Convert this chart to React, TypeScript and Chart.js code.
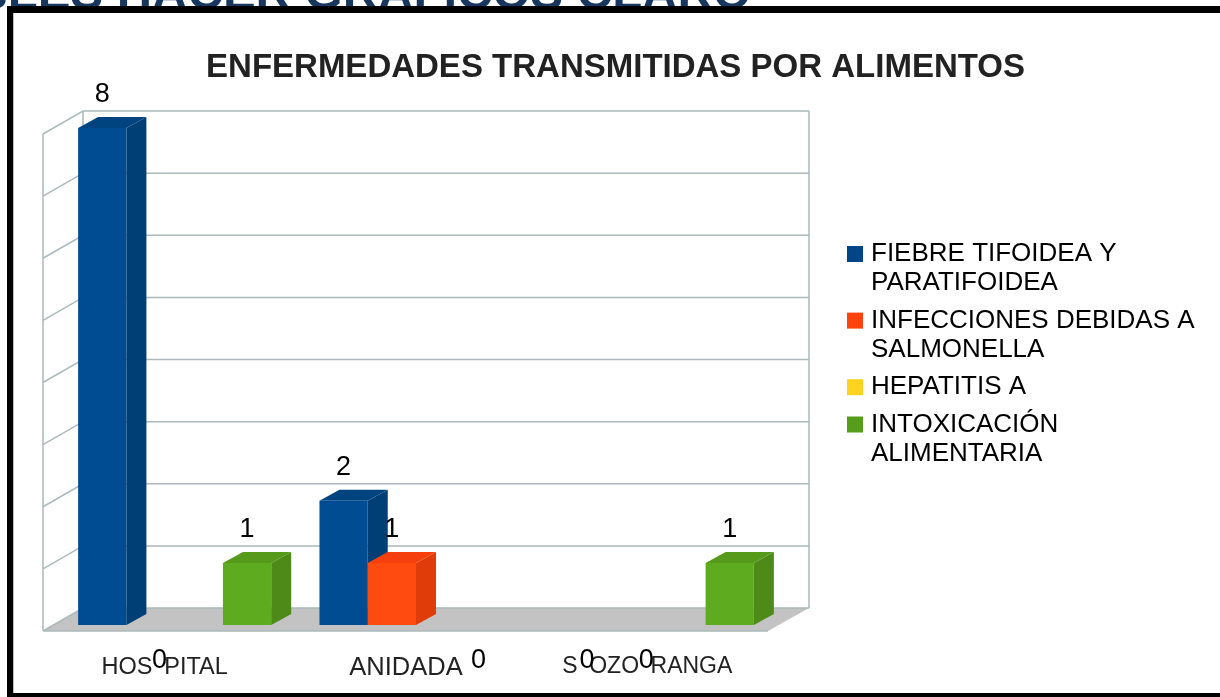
import { useEffect, useRef } from "react";
import { Chart, registerables } from "chart.js";

Chart.register(...registerables);

const categories = ["HOS\u2002PITAL", "ANIDADA", "S\u2002OZO\u2002RANGA"];
const fiebre = [8, 2, 0];
const salmonella = [0, 1, 0];
const hepatitis = [null, null, null];
const intoxicacion = [1, 0, 1];

const seriesLabels = [
  ["FIEBRE TIFOIDEA Y", "PARATIFOIDEA"],
  ["INFECCIONES DEBIDAS A", "SALMONELLA"],
  ["HEPATITIS A"],
  ["INTOXICACIÓN", "ALIMENTARIA"],
];
const seriesValues = [fiebre, salmonella, hepatitis, intoxicacion];
const faceColors = ["#004C93", "#FF4A10", "#FFD320", "#5FAB1F"];
const sideColors = ["#003F76", "#E03C0A", "#DDB510", "#4E8A18"];
const topColors = ["#00447F", "#F5400D", "#F0C518", "#559A1B"];
const legendColors = ["#004586", "#FF420E", "#FFD320", "#579D1C"];
const tickSizes = [23.5, 25.5, 23];

const chartTitle = "ENFERMEDADES TRANSMITIDAS POR ALIMENTOS";
const pageHeading = "ABLES HACER GRAFICOS CLARO";
const FONT = "'Liberation Sans', Arial, sans-serif";

// horizontal nudge of the "0" labels, which sit on the axis text (dataset:category)
const zeroShift: Record<string, number> = { "1:0": 9, "3:1": -10, "0:2": 2, "1:2": 13 };

const decor = {
  id: "decor",
  afterLayout(chart: any) {
    const t = chart.titleBlock;
    t.left = 0; t.right = 1231; t.top = 48; t.bottom = 88;
    const l = chart.legend;
    l.left = 844; l.right = 1215; l.top = 233; l.bottom = 480;
  },
  beforeDraw(chart: any) {
    const { ctx, scales: { x, y } } = chart;
    ctx.save();
    // page heading clipped by the frame
    ctx.fillStyle = "#17375E";
    ctx.font = `bold 49px ${FONT}`;
    ctx.textAlign = "right";
    ctx.textBaseline = "alphabetic";
    ctx.fillText(pageHeading, 751, 9);
    // frame
    ctx.fillStyle = "#000";
    ctx.fillRect(7, 6, 1213, 7);
    ctx.fillRect(7, 6, 6.5, 691);
    ctx.fillRect(7, 693, 1213, 4);
    ctx.fillStyle = "#fff";
    ctx.fillRect(13.5, 13, 1206.5, 680);

    const left = x.left, right = x.right;
    const zero = y.getPixelForValue(0);
    // floor
    ctx.fillStyle = "#C3C3C3";
    ctx.beginPath();
    ctx.moveTo(left - 11, zero + 6);
    ctx.lineTo(left + 29, zero - 17);
    ctx.lineTo(right + 31, zero - 17);
    ctx.lineTo(right - 10, zero + 6);
    ctx.closePath();
    ctx.fill();
    // walls
    ctx.strokeStyle = "#ADB9BB";
    ctx.lineWidth = 1.5;
    ctx.beginPath();
    y.ticks.forEach((tk: any) => {
      const py = y.getPixelForValue(tk.value);
      ctx.moveTo(left - 11, py + 6);
      ctx.lineTo(left + 29, py - 17);
      ctx.lineTo(right + 31, py - 17);
    });
    const top = y.getPixelForValue(8);
    ctx.moveTo(left - 11, top + 6);
    ctx.lineTo(left - 11, zero + 6);
    ctx.moveTo(left + 29, top - 17);
    ctx.lineTo(left + 29, zero - 17);
    ctx.moveTo(right + 31, top - 17);
    ctx.lineTo(right + 31, zero - 17);
    ctx.moveTo(left - 11, zero + 6);
    ctx.lineTo(right - 10, zero + 6);
    ctx.stroke();
    ctx.restore();
  },
  beforeDatasetsDraw(chart: any) {
    const { ctx } = chart;
    const dx = 20, dy = 11;
    ctx.save();
    chart.data.datasets.forEach((ds: any, di: number) => {
      chart.getDatasetMeta(di).data.forEach((bar: any, i: number) => {
        if (!ds.data[i]) return;
        const l = bar.x - bar.width / 2, r = bar.x + bar.width / 2;
        ctx.fillStyle = sideColors[di];
        ctx.beginPath();
        ctx.moveTo(r, bar.y);
        ctx.lineTo(r + dx, bar.y - dy);
        ctx.lineTo(r + dx, bar.base - dy);
        ctx.lineTo(r, bar.base);
        ctx.closePath();
        ctx.fill();
        ctx.fillStyle = topColors[di];
        ctx.beginPath();
        ctx.moveTo(l, bar.y);
        ctx.lineTo(l + dx, bar.y - dy);
        ctx.lineTo(r + dx, bar.y - dy);
        ctx.lineTo(r, bar.y);
        ctx.closePath();
        ctx.fill();
      });
    });
    ctx.restore();
  },
  afterDatasetsDraw(chart: any) {
    const { ctx } = chart;
    ctx.save();
    ctx.fillStyle = "#000";
    ctx.font = `27px ${FONT}`;
    ctx.textAlign = "center";
    ctx.textBaseline = "middle";
    chart.data.datasets.forEach((ds: any, di: number) => {
      chart.getDatasetMeta(di).data.forEach((bar: any, i: number) => {
        const v = ds.data[i];
        if (v === null || v === undefined) return;
        if (v === 0) ctx.fillText("0", bar.x + (zeroShift[`${di}:${i}`] ?? 0), bar.base + 36);
        else ctx.fillText(String(v), bar.x, bar.y - 33);
      });
    });
    ctx.restore();
  },
};

export default function App() {
  const ref = useRef<HTMLCanvasElement>(null);
  useEffect(() => {
    document.body.style.margin = "0";
    const chart = new Chart(ref.current as HTMLCanvasElement, {
      type: "bar",
      data: {
        labels: categories,
        datasets: seriesValues.map((values, i) => ({
          label: seriesLabels[i] as any,
          data: values as any,
          backgroundColor: faceColors[i],
          borderWidth: 0,
          barPercentage: 1,
          categoryPercentage: 0.8,
        })),
      },
      options: {
        responsive: false,
        animation: false,
        layout: { padding: { left: 54, right: 442, top: 88, bottom: 0 } },
        scales: {
          x: {
            grid: { display: false },
            border: { display: false },
            afterFit: (s: any) => { s.height = 72; },
            ticks: {
              maxRotation: 0,
              autoSkip: false,
              padding: 20,
              labelOffset: -10,
              color: "#222",
              font: (c: any) => ({ family: FONT, size: tickSizes[c.index] ?? 23 }),
            },
          },
          y: { display: false, min: 0, max: 8, ticks: { stepSize: 1 } },
        },
        plugins: {
          tooltip: { enabled: false },
          title: {
            display: true,
            text: chartTitle,
            color: "#222",
            padding: 0,
            font: { family: FONT, size: 33, weight: "bold", lineHeight: 40 / 33 },
          },
          legend: {
            position: "chartArea" as any,
            align: "start",
            labels: {
              boxWidth: 6,
              boxHeight: 6,
              padding: 8,
              color: "#000",
              font: { family: FONT, size: 26, lineHeight: 29.3 / 26 },
              generateLabels: (c: any) =>
                c.data.datasets.map((ds: any, i: number) => ({
                  text: ds.label,
                  fillStyle: legendColors[i],
                  strokeStyle: legendColors[i],
                  lineWidth: 10,
                  fontColor: "#000",
                  datasetIndex: i,
                  hidden: false,
                })),
            },
          },
        },
      },
      plugins: [decor],
    } as any);
    return () => chart.destroy();
  }, []);
  return (
    <div style={{ position: "absolute", left: 0, top: 0, width: 1220, height: 697, overflow: "hidden", background: "#fff" }}>
      <canvas ref={ref} width={1220} height={697} style={{ display: "block" }} />
    </div>
  );
}
